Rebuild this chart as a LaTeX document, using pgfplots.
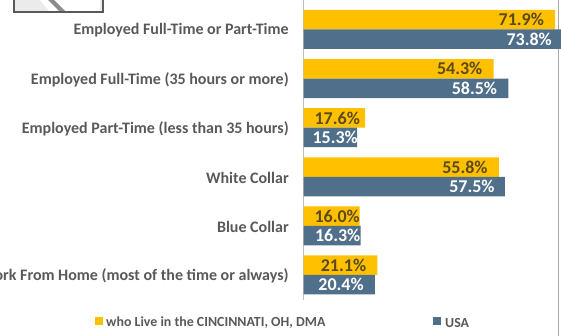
\documentclass[border=0pt]{standalone}
\usepackage{pgfplots}
\usepackage{pgfplotstable}
\pgfplotsset{compat=1.18}
\usepackage{fontspec}
\setmainfont{Carlito}
\definecolor{gold}{HTML}{FFC000}
\definecolor{steel}{HTML}{4F6F8B}
\definecolor{lab}{HTML}{595959}
\definecolor{goldtxt}{HTML}{5A4A1E}
\pgfplotstableread{
y x shift lbl
0 71.9 -11 71.9\%
1 54.3 -11 54.3\%
2 17.6 -5 17.6\%
3 55.8 -11 55.8\%
4 16.0 0.5 16.0\%
5 21.1 -11 21.1\%
}\goldtab
\pgfplotstableread{
y x shift lbl
0 73.8 -9.8 73.8\%
1 58.5 -11 58.5\%
2 15.3 1 15.3\%
3 57.5 -10 57.5\%
4 16.3 0 16.3\%
5 20.4 -11 20.4\%
}\bluetab
\begin{document}
\begin{tikzpicture}[x=1pt,y=1pt]
\useasboundingbox (0,0) rectangle (561,336);
\draw[black!35,line width=1pt] (558.5,336) -- (558.5,0);
% fragment of the picture at the top left
\fill[black!8] (14,336) rectangle (103,324);
\fill[white] (40,336) -- (50,324) -- (100,324) -- (100,336) -- cycle;
\fill[black!45] (48,336) -- (60,324) -- (66,324) -- (54,336) -- cycle;
\draw[black!65,line width=1.2pt] (14,336) -- (14,324) -- (103,324) -- (103,336);
\begin{axis}[
  at={(303.5pt,36pt)},anchor=south west,
  scale only axis,width=257.5pt,height=300pt,
  xmin=0,xmax=73.57,
  ymin=-0.6,ymax=5.51,y dir=reverse,
  axis x line=none,
  axis y line*=left,
  y axis line style={draw=black!25,line width=0.6pt,-},
  ytick={0,1,2,3,4,5},
  yticklabels={Employed Full-Time or Part-Time,Employed Full-Time (35 hours or more),Employed Part-Time (less than 35 hours),White Collar,Blue Collar,Work From Home (most of the time or always)},
  yticklabel style={font=\fontsize{16}{17}\selectfont\bfseries,text=lab,xshift=-7pt,yshift=-1pt},
  major tick style={draw=none},
  clip=false,
  xbar,
  nodes near coords,
  point meta=explicit symbolic,
  visualization depends on={\thisrow{shift}\as\sh},
  every node near coord/.append style={anchor=east,xshift=\sh pt,font=\fontsize{18}{19}\selectfont\bfseries,inner sep=0pt},
]
\addplot[xbar,bar width=19.5pt,bar shift=9.75pt,fill=gold,draw=none,every node near coord/.append style={text=goldtxt}]
  table[x=x,y=y,meta=lbl] {\goldtab};
\addplot[xbar,bar width=19.5pt,bar shift=-9.75pt,fill=steel,draw=none,every node near coord/.append style={text=white}]
  table[x=x,y=y,meta=lbl] {\bluetab};
\end{axis}
\fill[gold] (95,11) rectangle (103,19);
\node[anchor=west,inner sep=0pt,text=lab,font=\fontsize{13.9}{15}\selectfont\bfseries] at (106,13.5) {who Live in the CINCINNATI, OH, DMA};
\fill[steel] (433,11) rectangle (441,19);
\node[anchor=west,inner sep=0pt,text=lab,font=\fontsize{13.9}{15}\selectfont\bfseries] at (445,13.5) {USA};
\end{tikzpicture}
\end{document}
